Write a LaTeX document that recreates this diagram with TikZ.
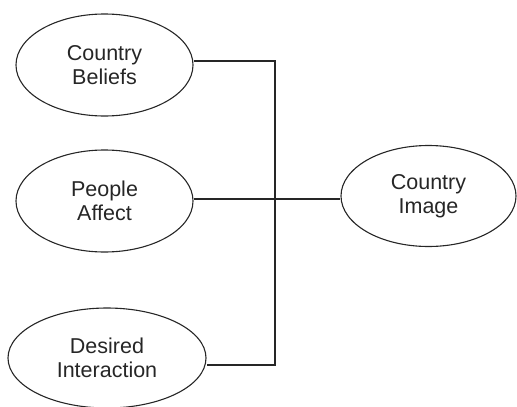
\documentclass[tikz,border=0pt]{standalone}
\usepackage{fontspec}
\setmainfont{Liberation Sans}
\usetikzlibrary{shapes.geometric}
\begin{document}
\begin{tikzpicture}[x=1pt,y=-1pt,
  oval/.style={ellipse, draw=black!85, line width=1.1pt, inner sep=0pt,
    align=center, font=\fontsize{21.5}{24}\selectfont, text=black!85},
  link/.style={draw=black!85, line width=1.4pt}]
\useasboundingbox (0,0) rectangle (517,407);
\node[oval, minimum width=177pt, minimum height=102pt] (cb) at (104.5,65) {Country\\Beliefs};
\node[oval, minimum width=177pt, minimum height=102pt] (pa) at (104.5,201) {People\\Affect};
\node[oval, minimum width=198pt, minimum height=100pt] (di) at (107,358) {Desired\\Interaction};
\node[oval, minimum width=175pt, minimum height=101pt] (ci) at (428.5,196) {Country\\Image};
\coordinate (jt) at (275,61);
\coordinate (jb) at (275,365);
\draw[link] (cb.east |- jt) -- (jt) -- (jb) -- (di.east |- jb);
\draw[link] (pa.east |- 0,199) -- (ci.west |- 0,199);
\end{tikzpicture}
\end{document}
